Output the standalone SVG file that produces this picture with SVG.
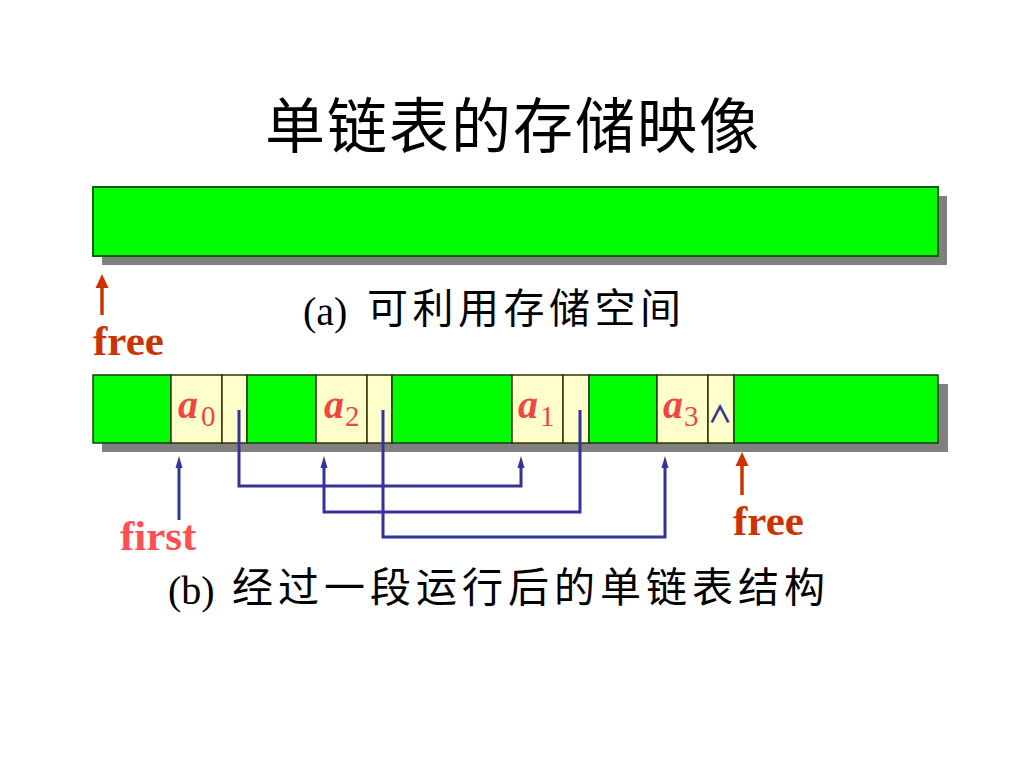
<svg xmlns="http://www.w3.org/2000/svg" width="1024" height="768" viewBox="0 0 1024 768">
<style>
.cjk{font-family:"Noto Sans CJK SC","Noto Sans CJK JP",sans-serif;fill:#000}
.tm{font-family:"Liberation Serif",serif;fill:#000}
.shadow{fill:#808080}
.g{fill:#00FF00;stroke:#1a3a1a;stroke-width:1.5}
.c{fill:#FFFFCC;stroke:#333300;stroke-width:1.5}
.lbl{font-family:"Liberation Serif",serif;fill:#F04545;font-style:italic;font-weight:bold;font-size:40px}
.sub{font-family:"Liberation Serif",serif;fill:#F04545;font-size:29px}
.ptr{fill:none;stroke:#333399;stroke-width:3}
.red{font-family:"Liberation Serif",serif;font-weight:bold;font-size:43px;fill:#CC3300}
</style>
<defs>
<marker id="bh" markerWidth="12" markerHeight="8" refX="0" refY="4" orient="auto" markerUnits="userSpaceOnUse" viewBox="0 0 12 8">
<path d="M0,0.5 L12,4 L0,7.5 Z" fill="#333399"/>
</marker>
</defs>
<rect width="1024" height="768" fill="#fff"/>
<text class="cjk" x="265" y="148" font-size="60" letter-spacing="2">单链表的存储映像</text>

<g id="space-a">
<rect class="shadow" x="102" y="196" width="845" height="69"/>
<rect x="93" y="187" width="845" height="69" fill="#00FF00" stroke="#0b5e0b" stroke-width="2"/>
</g>
<g id="free-a">
<line x1="102" y1="315" x2="102" y2="286" stroke="#CC3300" stroke-width="3.5"/>
<path d="M102,274 L108.5,288 L95.5,288 Z" fill="#CC3300"/>
<text class="red" x="93" y="355">free</text>
</g>
<text x="303" y="325" class="tm" font-size="40">(a)</text>
<text x="367" y="323" class="cjk" font-size="41" letter-spacing="4.5">可利用存储空间</text>

<g id="list-b">
<rect class="shadow" x="102" y="384" width="846" height="68"/>
<rect class="g" x="93" y="375" width="78" height="68"/>
<rect class="c" x="171" y="375" width="51" height="68"/>
<rect class="c" x="222" y="375" width="25" height="68"/>
<rect class="g" x="247" y="375" width="69" height="68"/>
<rect class="c" x="316" y="375" width="51" height="68"/>
<rect class="c" x="367" y="375" width="25" height="68"/>
<rect class="g" x="392" y="375" width="120" height="68"/>
<rect class="c" x="512" y="375" width="51" height="68"/>
<rect class="c" x="563" y="375" width="26" height="68"/>
<rect class="g" x="589" y="375" width="68" height="68"/>
<rect class="c" x="657" y="375" width="51" height="68"/>
<rect class="c" x="708" y="375" width="26" height="68"/>
<rect class="g" x="734" y="375" width="204" height="68"/>
</g>
<g id="node-a0"><text class="lbl" x="178" y="418">a</text><text class="sub" x="201" y="426">0</text></g>
<g id="node-a2"><text class="lbl" x="324" y="418">a</text><text class="sub" x="345" y="426">2</text></g>
<g id="node-a1"><text class="lbl" x="518" y="418">a</text><text class="sub" x="540" y="426">1</text></g>
<g id="node-a3"><text class="lbl" x="663" y="418">a</text><text class="sub" x="684" y="426">3</text></g>
<g id="null-a3"><text x="720" y="423" font-family="Noto Sans CJK SC,sans-serif" font-size="24" font-weight="bold" fill="#333399" text-anchor="middle">∧</text></g>

<g id="connectors">
<polyline class="ptr" points="239,410 239,486 521,486 521,468" marker-end="url(#bh)"/>
<polyline class="ptr" points="580,410 580,512 324,512 324,468" marker-end="url(#bh)"/>
<polyline class="ptr" points="383,410 383,537 665,537 665,468" marker-end="url(#bh)"/>
<polyline class="ptr" points="179,520 179,468" marker-end="url(#bh)"/>
</g>
<g id="first">
<text x="120" y="550" font-family="Liberation Serif,serif" font-weight="bold" font-size="43" fill="#FF5050">first</text>
</g>
<g id="free-b">
<line x1="742" y1="495" x2="742" y2="464" stroke="#CC3300" stroke-width="3.5"/>
<path d="M742,452 L748.5,466 L735.5,466 Z" fill="#CC3300"/>
<text class="red" x="733" y="535">free</text>
</g>
<text x="168" y="604" class="tm" font-size="40">(b)</text>
<text x="232" y="602" class="cjk" font-size="41" letter-spacing="5">经过一段运行后的单链表结构</text>
</svg>
